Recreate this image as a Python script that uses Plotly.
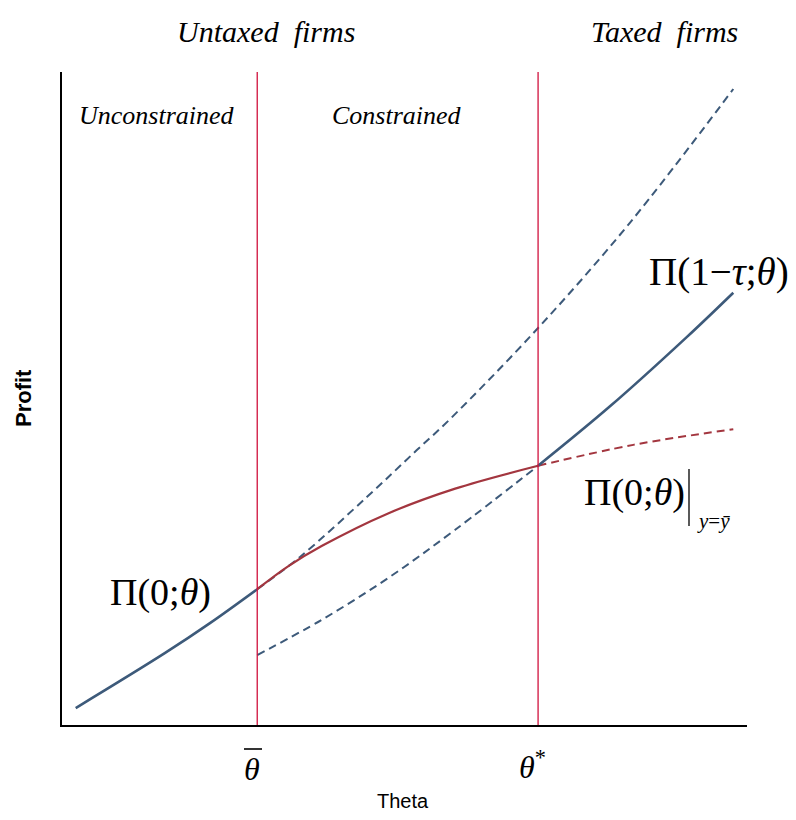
import plotly.graph_objects as go

# curve values (x: theta, y: profit, both in 0..10 units)
theta_unc = [0.20, 1.50, 2.16, 2.85]
pi_unc = [0.26, 1.10, 1.56, 2.08]

theta_up = [2.85, 3.47, 4.45, 5.18, 5.66, 6.95, 8.29, 9.80]
pi_up = [2.08, 2.57, 3.49, 4.21, 4.68, 6.08, 7.69, 9.74]

theta_con = [2.85, 3.30, 3.79, 4.76, 5.74, 6.95]
pi_con = [2.08, 2.43, 2.74, 3.24, 3.62, 3.97]

theta_low = [2.85, 3.79, 4.76, 5.74, 6.95]
pi_low = [1.07, 1.61, 2.25, 2.99, 3.97]

theta_tax = [6.95, 8.00, 9.12, 9.80]
pi_tax = [3.97, 4.88, 5.94, 6.62]

theta_cdash = [6.95, 8.34, 9.80]
pi_cdash = [3.97, 4.29, 4.53]

theta_bar = 2.85
theta_star = 6.95

BLUE = "#3d5a7a"
RED = "#a3363f"
VRED = "#d0103c"
SERIF = "Liberation Serif, Times New Roman, serif"
SANS = "Liberation Sans, Arial, sans-serif"

# the page body has an 8px margin, so the figure is 8px smaller and shifted
OFF = 8
W, H = 796 - OFF, 820 - OFF


def px(x):
    return (x - OFF) / W


def py(y):
    return 1 - (y - OFF) / H


fig = go.Figure()

fig.add_trace(go.Scatter(x=theta_unc, y=pi_unc, mode="lines",
                         line=dict(color=BLUE, width=2.6, shape="spline")))
fig.add_trace(go.Scatter(x=theta_up, y=pi_up, mode="lines",
                         line=dict(color=BLUE, width=2, dash="8px,5px", shape="spline")))
fig.add_trace(go.Scatter(x=theta_low, y=pi_low, mode="lines",
                         line=dict(color=BLUE, width=2, dash="8px,5px", shape="spline")))
fig.add_trace(go.Scatter(x=theta_con, y=pi_con, mode="lines",
                         line=dict(color=RED, width=2.2, shape="spline")))
fig.add_trace(go.Scatter(x=theta_cdash, y=pi_cdash, mode="lines",
                         line=dict(color=RED, width=2, dash="8px,5px", shape="spline")))
fig.add_trace(go.Scatter(x=theta_tax, y=pi_tax, mode="lines",
                         line=dict(color=BLUE, width=2.6, shape="spline")))

for t in [theta_bar, theta_star]:
    fig.add_shape(type="line", x0=t, x1=t, y0=0, y1=10, xref="x", yref="y",
                  line=dict(color=VRED, width=1.3))

# bar of the evaluation sign
fig.add_shape(type="line", x0=px(689), x1=px(689), y0=py(469), y1=py(526),
              xref="paper", yref="paper", line=dict(color="black", width=1.3))
# bar over theta tick label
fig.add_shape(type="line", x0=px(244), x1=px(262), y0=py(749), y1=py(749),
              xref="paper", yref="paper", line=dict(color="black", width=1.6))

ann = [
    ("<i>Untaxed  firms</i>", 266, 32, 30, SERIF),
    ("<i>Taxed  firms</i>", 664, 32, 30, SERIF),
    ("<i>Unconstrained</i>", 157, 115, 26, SERIF),
    ("<i>Constrained</i>", 397, 115, 26, SERIF),
    ("Π(0;<i>θ</i>)", 160, 592, 38, SERIF),
    ("Π(1−<i>τ</i>;<i>θ</i>)", 719, 272, 39, SERIF),
    ("Π(0;<i>θ</i>)", 634, 493, 38, SERIF),
    ("<i>y</i>=<i>ȳ</i>", 713, 521, 21, SERIF),
    ("<i>θ</i>", 252, 769, 32, SERIF),
    ("<i>θ</i><sup>*</sup>", 532, 765, 32, SERIF),
    ("Theta", 403, 801, 20, SANS),
]
for text, x, y, size, fam in ann:
    fig.add_annotation(text=text, x=px(x), y=py(y), xref="paper", yref="paper",
                       showarrow=False, xanchor="center", yanchor="middle",
                       font=dict(family=fam, size=size, color="black"))

fig.add_annotation(text="<b>Profit</b>", x=px(23), y=py(398), xref="paper", yref="paper",
                   showarrow=False, textangle=-90, xanchor="center", yanchor="middle",
                   font=dict(family=SANS, size=22, color="black"))

fig.update_layout(
    width=W, height=H,
    margin=dict(l=0, r=0, t=0, b=0),
    paper_bgcolor="white", plot_bgcolor="white",
    showlegend=False,
    xaxis=dict(domain=[px(62), px(747)], range=[0, 10], showgrid=False, zeroline=False,
               showticklabels=False, ticks="", showline=True, linecolor="black", linewidth=1.5),
    yaxis=dict(domain=[py(725), py(72)], range=[0, 10], showgrid=False, zeroline=False,
               showticklabels=False, ticks="", showline=True, linecolor="black", linewidth=1.5),
)

fig.write_html("out.html")
